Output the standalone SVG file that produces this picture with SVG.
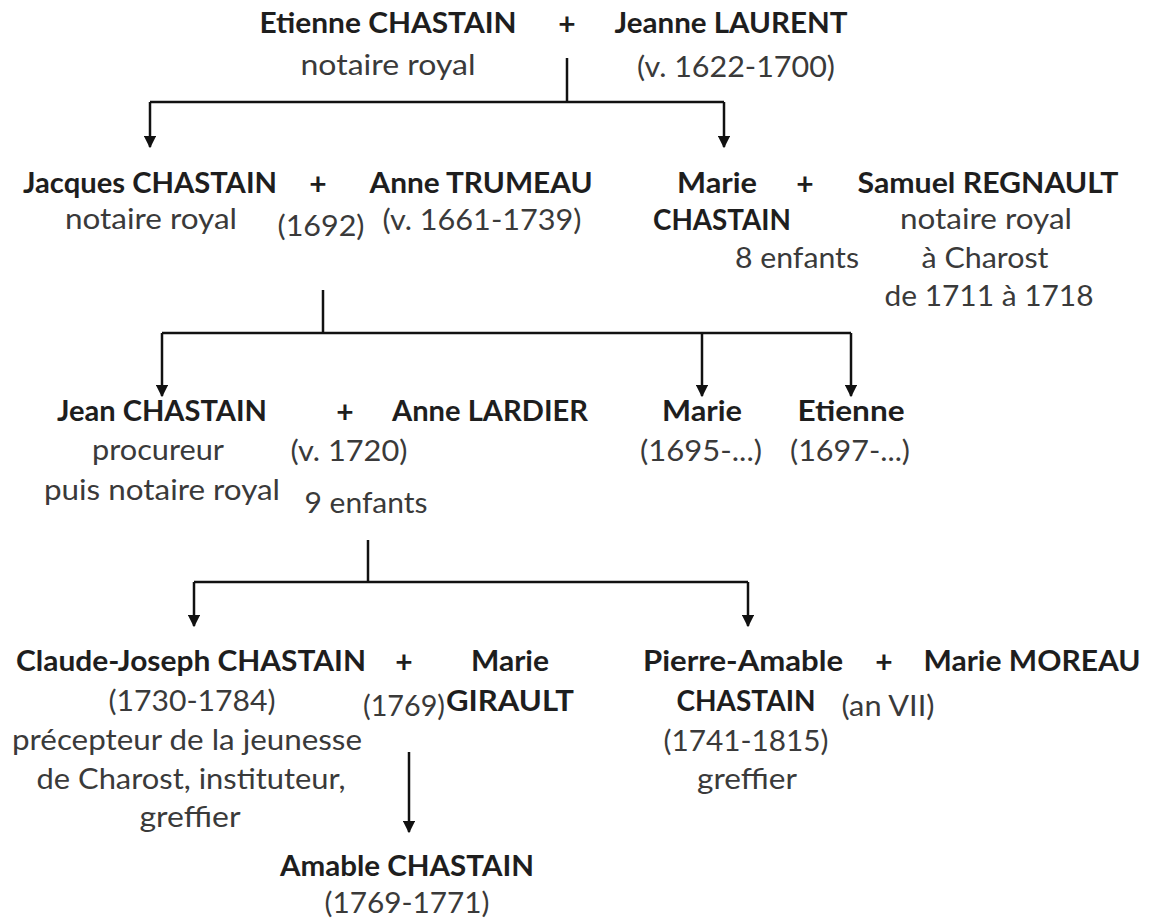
<svg xmlns="http://www.w3.org/2000/svg" width="1153" height="920" viewBox="0 0 1153 920">
  <style>
    text { font-family: Lato, "Open Sans", "Liberation Sans", sans-serif; font-size: 28px; text-anchor: middle; }
    .b { font-weight: bold; fill: #1e1e1e; font-size: 29px; }
    .r { fill: #3a3a3a; }
    .plus { font-weight: bold; fill: #1e1e1e; font-size: 30px; }
    .link { fill: none; stroke: #111; stroke-width: 2.5; }
  </style>
  <defs>
    <marker id="arrow" viewBox="0 0 10 10" refX="9" refY="5" markerWidth="5" markerHeight="5" markerUnits="strokeWidth" orient="auto">
      <path d="M0,0 L10,5 L0,10 Z" fill="#111"/>
    </marker>
  </defs>
  <rect width="1153" height="920" fill="#fff"/>

  <!-- connectors -->
  <g id="connectors">
    <path class="link" d="M567,58 V102"/>
    <path class="link" d="M150,102 H724"/>
    <path class="link" d="M150,102 V147" marker-end="url(#arrow)"/>
    <path class="link" d="M724,102 V147" marker-end="url(#arrow)"/>

    <path class="link" d="M323,290 V333"/>
    <path class="link" d="M162,333 H851"/>
    <path class="link" d="M162,333 V396" marker-end="url(#arrow)"/>
    <path class="link" d="M702,333 V396" marker-end="url(#arrow)"/>
    <path class="link" d="M851,333 V396" marker-end="url(#arrow)"/>

    <path class="link" d="M368,540 V582"/>
    <path class="link" d="M194,582 H748"/>
    <path class="link" d="M194,582 V626" marker-end="url(#arrow)"/>
    <path class="link" d="M748,582 V626" marker-end="url(#arrow)"/>

    <path class="link" d="M409,752 V832" marker-end="url(#arrow)"/>
  </g>

  <!-- generation 1 -->
  <g id="etienne-chastain">
    <text class="b" x="388" y="33" textLength="257" lengthAdjust="spacingAndGlyphs">Etienne CHASTAIN</text>
    <text class="r" x="388" y="75" textLength="175" lengthAdjust="spacingAndGlyphs">notaire royal</text>
  </g>
  <g id="union-1"><text class="plus" x="567" y="35">+</text></g>
  <g id="jeanne-laurent">
    <text class="b" x="731" y="33" textLength="233" lengthAdjust="spacingAndGlyphs">Jeanne LAURENT</text>
    <text class="r" x="736" y="77" textLength="198" lengthAdjust="spacingAndGlyphs">(v. 1622-1700)</text>
  </g>

  <!-- generation 2 -->
  <g id="jacques-chastain">
    <text class="b" x="150" y="193" textLength="254" lengthAdjust="spacingAndGlyphs">Jacques CHASTAIN</text>
    <text class="r" x="151" y="229" textLength="172" lengthAdjust="spacingAndGlyphs">notaire royal</text>
  </g>
  <g id="union-2">
    <text class="plus" x="318" y="195">+</text>
    <text class="r" x="321" y="236" textLength="87" lengthAdjust="spacingAndGlyphs">(1692)</text>
  </g>
  <g id="anne-trumeau">
    <text class="b" x="481" y="193" textLength="223" lengthAdjust="spacingAndGlyphs">Anne TRUMEAU</text>
    <text class="r" x="482" y="230" textLength="199" lengthAdjust="spacingAndGlyphs">(v. 1661-1739)</text>
  </g>
  <g id="marie-chastain">
    <text class="b" x="717" y="193" textLength="80" lengthAdjust="spacingAndGlyphs">Marie</text>
    <text class="b" x="722" y="230" textLength="138" lengthAdjust="spacingAndGlyphs">CHASTAIN</text>
  </g>
  <g id="union-3">
    <text class="plus" x="805" y="195">+</text>
    <text class="r" x="797" y="268" textLength="124" lengthAdjust="spacingAndGlyphs">8 enfants</text>
  </g>
  <g id="samuel-regnault">
    <text class="b" x="988" y="193" textLength="261" lengthAdjust="spacingAndGlyphs">Samuel REGNAULT</text>
    <text class="r" x="986" y="229" textLength="172" lengthAdjust="spacingAndGlyphs">notaire royal</text>
    <text class="r" x="985" y="268" textLength="127" lengthAdjust="spacingAndGlyphs">à Charost</text>
    <text class="r" x="989" y="306" textLength="209" lengthAdjust="spacingAndGlyphs">de 1711 à 1718</text>
  </g>

  <!-- generation 3 -->
  <g id="jean-chastain">
    <text class="b" x="162" y="421" textLength="210" lengthAdjust="spacingAndGlyphs">Jean CHASTAIN</text>
    <text class="r" x="158" y="460" textLength="132" lengthAdjust="spacingAndGlyphs">procureur</text>
    <text class="r" x="162" y="500" textLength="236" lengthAdjust="spacingAndGlyphs">puis notaire royal</text>
  </g>
  <g id="union-4">
    <text class="plus" x="345" y="423">+</text>
    <text class="r" x="349" y="461" textLength="117" lengthAdjust="spacingAndGlyphs">(v. 1720)</text>
    <text class="r" x="366" y="513" textLength="123" lengthAdjust="spacingAndGlyphs">9 enfants</text>
  </g>
  <g id="anne-lardier">
    <text class="b" x="490" y="421" textLength="196" lengthAdjust="spacingAndGlyphs">Anne LARDIER</text>
  </g>
  <g id="marie-1695">
    <text class="b" x="702" y="421" textLength="80" lengthAdjust="spacingAndGlyphs">Marie</text>
    <text class="r" x="701" y="461" textLength="122" lengthAdjust="spacingAndGlyphs">(1695-...)</text>
  </g>
  <g id="etienne-1697">
    <text class="b" x="851" y="421" textLength="107" lengthAdjust="spacingAndGlyphs">Etienne</text>
    <text class="r" x="850" y="461" textLength="120" lengthAdjust="spacingAndGlyphs">(1697-...)</text>
  </g>

  <!-- generation 4 -->
  <g id="claude-joseph-chastain">
    <text class="b" x="191" y="671" textLength="350" lengthAdjust="spacingAndGlyphs">Claude-Joseph CHASTAIN</text>
    <text class="r" x="192" y="711" textLength="167" lengthAdjust="spacingAndGlyphs">(1730-1784)</text>
    <text class="r" x="187" y="750" textLength="350" lengthAdjust="spacingAndGlyphs">précepteur de la jeunesse</text>
    <text class="r" x="191" y="789" textLength="309" lengthAdjust="spacingAndGlyphs">de Charost, instituteur,</text>
    <text class="r" x="190" y="827" textLength="101" lengthAdjust="spacingAndGlyphs">greffier</text>
  </g>
  <g id="union-5">
    <text class="plus" x="404" y="673">+</text>
    <text class="r" x="404" y="716" textLength="82" lengthAdjust="spacingAndGlyphs">(1769)</text>
  </g>
  <g id="marie-girault">
    <text class="b" x="510" y="671" textLength="78" lengthAdjust="spacingAndGlyphs">Marie</text>
    <text class="b" x="510" y="711" textLength="128" lengthAdjust="spacingAndGlyphs">GIRAULT</text>
  </g>
  <g id="pierre-amable-chastain">
    <text class="b" x="743" y="671" textLength="200" lengthAdjust="spacingAndGlyphs">Pierre-Amable</text>
    <text class="b" x="746" y="711" textLength="139" lengthAdjust="spacingAndGlyphs">CHASTAIN</text>
    <text class="r" x="746" y="751" textLength="165" lengthAdjust="spacingAndGlyphs">(1741-1815)</text>
    <text class="r" x="747" y="789" textLength="100" lengthAdjust="spacingAndGlyphs">greffier</text>
  </g>
  <g id="union-6">
    <text class="plus" x="884" y="673">+</text>
    <text class="r" x="888" y="716" textLength="93" lengthAdjust="spacingAndGlyphs">(an VII)</text>
  </g>
  <g id="marie-moreau">
    <text class="b" x="1032" y="671" textLength="217" lengthAdjust="spacingAndGlyphs">Marie MOREAU</text>
  </g>

  <!-- generation 5 -->
  <g id="amable-chastain">
    <text class="b" x="407" y="876" textLength="254" lengthAdjust="spacingAndGlyphs">Amable CHASTAIN</text>
    <text class="r" x="407" y="913" textLength="165" lengthAdjust="spacingAndGlyphs">(1769-1771)</text>
  </g>
</svg>
